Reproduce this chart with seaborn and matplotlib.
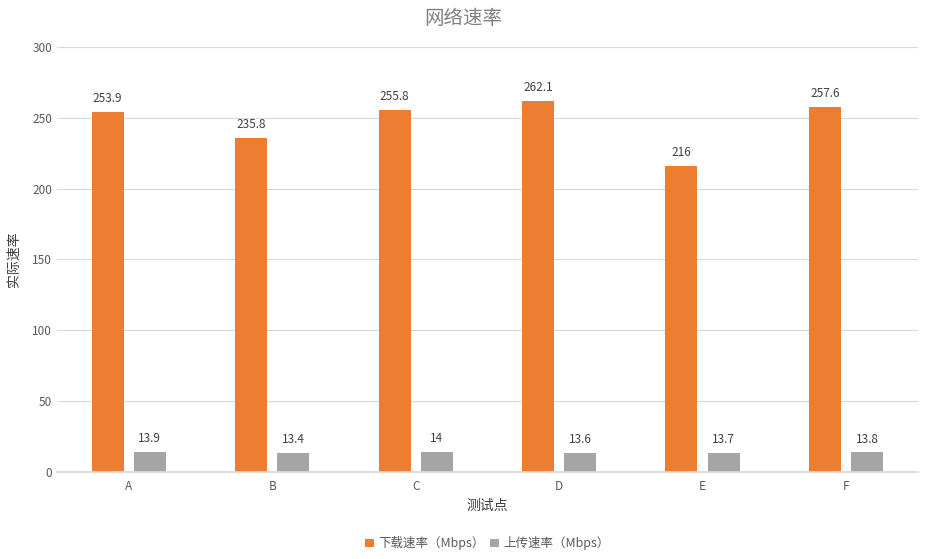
import pandas as pd
import matplotlib
matplotlib.use('Agg')
import matplotlib.pyplot as plt
import seaborn as sns

# 数据
sites = ['A', 'B', 'C', 'D', 'E', 'F']
download = [253.9, 235.8, 255.8, 262.1, 216, 257.6]
upload = [13.9, 13.4, 14, 13.6, 13.7, 13.8]
series_names = ['下载速率（Mbps）', '上传速率（Mbps）']
colors = ['#ED7D31', '#A5A5A5']

df = pd.DataFrame({
    '测试点': sites * 2,
    '速率': download + upload,
    '类型': [series_names[0]] * len(sites) + [series_names[1]] * len(sites),
})

sns.set_theme(style='white')
plt.rcParams['font.family'] = ['Noto Sans CJK SC', 'DejaVu Sans']

fig = plt.figure(figsize=(9.27, 5.59), dpi=100)
ax = fig.add_axes([0.0615, 0.1556, 0.9285, 0.7604])

sns.barplot(data=df, x='测试点', y='速率', hue='类型', palette=colors,
            saturation=1, width=0.588, gap=0.24, linewidth=0,
            ax=ax, legend=True)

# 数据标签
labels_all = [download, upload]
for cont, vals in zip(ax.containers, labels_all):
    ax.bar_label(cont, labels=[f'{v:g}' for v in vals], padding=5,
                 fontsize=8.5, color='#404040')

ax.set_ylim(0, 300)
ax.set_yticks(range(0, 301, 50))
ax.yaxis.grid(True, color='#D9D9D9', linewidth=0.8)
ax.set_axisbelow(True)
for s in ['top', 'right', 'left']:
    ax.spines[s].set_visible(False)
ax.spines['bottom'].set_color('#D9D9D9')
ax.tick_params(axis='both', labelsize=8.5, colors='#595959', length=0)
ax.tick_params(axis='x', pad=6)

ax.set_xlabel('测试点', fontsize=10, color='#404040', labelpad=4)
ax.set_ylabel('实际速率', fontsize=10, color='#404040', labelpad=8)
fig.suptitle('网络速率', y=0.985, fontsize=14, color='#808080')

ax.legend(loc='upper center', bbox_to_anchor=(0.5, -0.125), ncol=2,
          frameon=False, fontsize=9, handlelength=0.7, handleheight=0.7,
          handletextpad=0.3, columnspacing=0.5, labelcolor='#595959')

fig.savefig('out.png', dpi=100)
